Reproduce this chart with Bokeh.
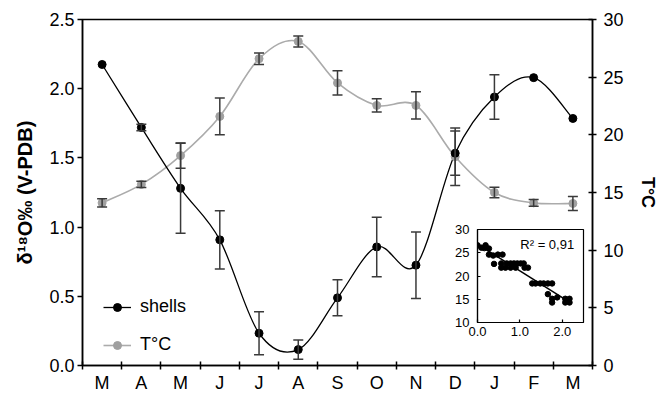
import numpy as np
from bokeh.plotting import figure
from bokeh.models import (Range1d, LinearAxis, FixedTicker, SingleIntervalTicker, ColumnDataSource,
                          Whisker, TeeHead, Legend, LegendItem, Label, PrintfTickFormatter)
from bokeh.embed import file_html
from bokeh.resources import INLINE

# ---------------- data ----------------
months = ["M", "A", "M", "J", "J", "A", "S", "O", "N", "D", "J", "F", "M"]
shells = [2.175, 1.72, 1.28, 0.908, 0.233, 0.115, 0.489, 0.857, 0.725, 1.534, 1.94, 2.08, 1.785]
shells_err = [0.0, 0.024, 0.325, 0.21, 0.155, 0.07, 0.13, 0.215, 0.24, 0.16, 0.16, 0.0, 0.0]
temp = [14.1, 15.7, 18.2, 21.6, 26.6, 28.1, 24.5, 22.55, 22.55, 18.1, 15.0, 14.1, 14.05]
temp_err = [0.35, 0.27, 1.1, 1.6, 0.5, 0.48, 1.05, 0.58, 1.18, 2.5, 0.45, 0.3, 0.6]

inset_d18o = [0.0, 0.09, 0.19, 0.16, 0.27, 0.27, 0.37, 0.48, 0.59, 0.39, 0.56, 0.56, 0.66,
              0.69, 0.78, 0.86, 0.94, 1.02, 1.09, 0.90, 1.11, 1.19, 0.78, 1.29, 1.37, 1.56,
              1.66, 1.76, 1.66, 1.76, 1.76, 1.88, 2.07, 2.07, 2.17, 2.17, 1.48]
inset_temp = [26.6, 26.1, 26.6, 26.0, 25.9, 24.6, 24.4, 24.6, 24.6, 22.6, 22.7, 21.8, 21.8,
              22.7, 22.7, 22.7, 22.7, 22.7, 22.7, 21.8, 21.8, 21.8, 21.8, 18.4, 18.4, 18.4,
              18.4, 18.4, 16.1, 15.1, 14.3, 15.4, 15.1, 14.3, 15.1, 14.3, 18.4]
r2_text = "R² = 0,91"

FONT = "Liberation Sans"
BLACK = "#000000"
GREY_LINE = "#ababab"
GREY_PT = "#a0a0a0"
ERR = "#3a3a3a"

x = np.arange(len(months)) + 0.5


def bezier_source(xs, ys):
    xs = np.asarray(xs, float)
    ys = np.asarray(ys, float)
    n = len(xs)
    xp = np.concatenate([[xs[0]], xs, [xs[-1]]])
    yp = np.concatenate([[ys[0]], ys, [ys[-1]]])
    return ColumnDataSource(dict(
        x0=xs[:-1], y0=ys[:-1], x1=xs[1:], y1=ys[1:],
        cx0=xp[1:n] + (xp[2:n + 1] - xp[0:n - 1]) / 6.0,
        cy0=yp[1:n] + (yp[2:n + 1] - yp[0:n - 1]) / 6.0,
        cx1=xp[2:n + 1] - (xp[3:n + 2] - xp[1:n]) / 6.0,
        cy1=yp[2:n + 1] - (yp[3:n + 2] - yp[1:n]) / 6.0,
    ))


# ---------------- main figure ----------------
W, H = 652, 387
p = figure(width=W, height=H, x_range=Range1d(0, len(months)), y_range=Range1d(0, 2.5),
           output_backend="svg", toolbar_location=None,
           min_border_left=74, min_border_right=64, min_border_top=11, min_border_bottom=30)
p.extra_y_ranges = {"temp": Range1d(0, 30)}
p.grid.visible = False
p.outline_line_color = BLACK
p.outline_line_width = 1.5
p.background_fill_color = "white"
p.border_fill_color = "white"

# x axis
xa = p.xaxis[0]
xa.ticker = FixedTicker(ticks=list(x), minor_ticks=list(range(len(months) + 1)))
xa.major_label_overrides = {float(v): m for v, m in zip(x, months)}
xa.major_tick_line_color = None
xa.major_tick_in = 0
xa.major_tick_out = 0
xa.minor_tick_in = 4
xa.minor_tick_out = 4
xa.minor_tick_line_color = BLACK
xa.minor_tick_line_width = 1.5
xa.axis_line_width = 1.5
xa.axis_line_color = BLACK
xa.major_label_standoff = 3
xa.major_label_text_font = FONT
xa.major_label_text_font_size = "18px"
xa.major_label_text_color = BLACK

# left axis
ya = p.yaxis[0]
ya.ticker = SingleIntervalTicker(interval=0.5)
ya.formatter = PrintfTickFormatter(format="%.1f")
ya.minor_tick_line_color = None
ya.major_tick_in = 0
ya.major_tick_out = 5
ya.major_tick_line_width = 1.5
ya.axis_line_width = 1.5
ya.major_label_standoff = 3
ya.major_label_text_font = FONT
ya.major_label_text_font_size = "18px"
ya.major_label_text_color = BLACK
ya.axis_label = "δ¹⁸O‰ (V-PDB)"
ya.axis_label_text_font = FONT
ya.axis_label_text_font_style = "bold"
ya.axis_label_text_font_size = "20px"
ya.axis_label_text_color = BLACK
ya.axis_label_standoff = 10

# right axis
ra = LinearAxis(y_range_name="temp", ticker=SingleIntervalTicker(interval=5))
ra.minor_tick_line_color = None
ra.major_tick_in = 4
ra.major_tick_out = 4
ra.major_tick_line_width = 1.5
ra.axis_line_width = 1.5
ra.major_label_standoff = 7
ra.major_label_text_font = FONT
ra.major_label_text_font_size = "18px"
ra.major_label_text_color = BLACK
ra.axis_label = "T°C"
ra.axis_label_text_font = FONT
ra.axis_label_text_font_style = "bold"
ra.axis_label_text_font_size = "18px"
ra.axis_label_text_color = BLACK
ra.axis_label_standoff = 11
p.add_layout(ra, "right")


# error bars
def err_source(vals, errs):
    keep = [i for i, e in enumerate(errs) if e > 0]
    return ColumnDataSource(dict(
        x=[x[i] for i in keep],
        upper=[vals[i] + errs[i] for i in keep],
        lower=[vals[i] - errs[i] for i in keep],
    ))


def tee():
    return TeeHead(size=10, line_color=ERR, line_width=1.5)


w_t = Whisker(source=err_source(temp, temp_err), base="x", upper="upper", lower="lower",
              y_range_name="temp", line_color=ERR, line_width=1.5,
              upper_head=tee(), lower_head=tee(), level="glyph")
w_s = Whisker(source=err_source(shells, shells_err), base="x", upper="upper", lower="lower",
              line_color=ERR, line_width=1.5,
              upper_head=tee(), lower_head=tee(), level="glyph")
p.add_layout(w_t)
p.add_layout(w_s)

# smoothed lines
bz_t = p.bezier(x0="x0", y0="y0", x1="x1", y1="y1", cx0="cx0", cy0="cy0", cx1="cx1", cy1="cy1",
                source=bezier_source(x, temp), y_range_name="temp",
                line_color=GREY_LINE, line_width=1.6)
bz_s = p.bezier(x0="x0", y0="y0", x1="x1", y1="y1", cx0="cx0", cy0="cy0", cx1="cx1", cy1="cy1",
                source=bezier_source(x, shells), line_color=BLACK, line_width=1.3)

sc_t = p.scatter(x, temp, y_range_name="temp", size=8, marker="circle",
                 fill_color=GREY_PT, line_color=GREY_PT)
sc_s = p.scatter(x, shells, size=8, marker="circle", fill_color=BLACK, line_color=BLACK)

legend = Legend(items=[LegendItem(label="shells", renderers=[bz_s, sc_s]),
                       LegendItem(label="T°C", renderers=[bz_t, sc_t])],
                location=(21, 10), border_line_color=None, background_fill_alpha=0,
                padding=0, margin=0, spacing=17, glyph_width=28, glyph_height=20,
                label_height=20, label_standoff=9,
                label_text_font=FONT, label_text_font_size="18px", label_text_color=BLACK)
p.add_layout(legend)

# ---------------- inset ----------------
IW, IH = 140, 123
ins = figure(width=IW, height=IH, x_range=Range1d(0, 2.5), y_range=Range1d(10, 30),
             output_backend="svg", toolbar_location=None,
             min_border_left=30, min_border_right=4, min_border_top=8, min_border_bottom=22)
ins.grid.visible = False
ins.background_fill_color = "white"
ins.border_fill_color = None
ins.outline_line_color = BLACK
ins.outline_line_width = 1.2
for ax in (ins.xaxis[0], ins.yaxis[0]):
    ax.minor_tick_line_color = None
    ax.major_tick_in = 3
    ax.major_tick_out = 0
    ax.axis_line_width = 1.2
    ax.major_tick_line_width = 1.2
    ax.major_label_text_font = FONT
    ax.major_label_text_font_size = "13px"
    ax.major_label_text_color = BLACK
    ax.major_label_standoff = 4
ins.xaxis[0].ticker = FixedTicker(ticks=[0, 1, 2])
ins.xaxis[0].formatter = PrintfTickFormatter(format="%.1f")
ins.yaxis[0].ticker = SingleIntervalTicker(interval=5)

ins.scatter(inset_d18o, inset_temp, size=5.5, marker="circle", fill_color=BLACK, line_color=BLACK)
coef = np.polyfit(inset_d18o, inset_temp, 1)
xfit = np.array([min(inset_d18o), max(inset_d18o)])
ins.line(xfit, np.polyval(coef, xfit), line_color=BLACK, line_width=1.5)
ins.add_layout(Label(x=2.28, y=26.8, text=r2_text, text_align="right", text_baseline="middle",
                     text_font=FONT, text_font_size="13px", text_color=BLACK))

# both charts placed at fixed page positions; the inset floats over the main chart
p.styles = {"position": "absolute", "left": "8px", "top": "8px"}
ins.styles = {"position": "absolute", "left": "447px", "top": "221px", "z-index": "10"}

with open("out.html", "w") as f:
    f.write(file_html([p, ins], INLINE))
